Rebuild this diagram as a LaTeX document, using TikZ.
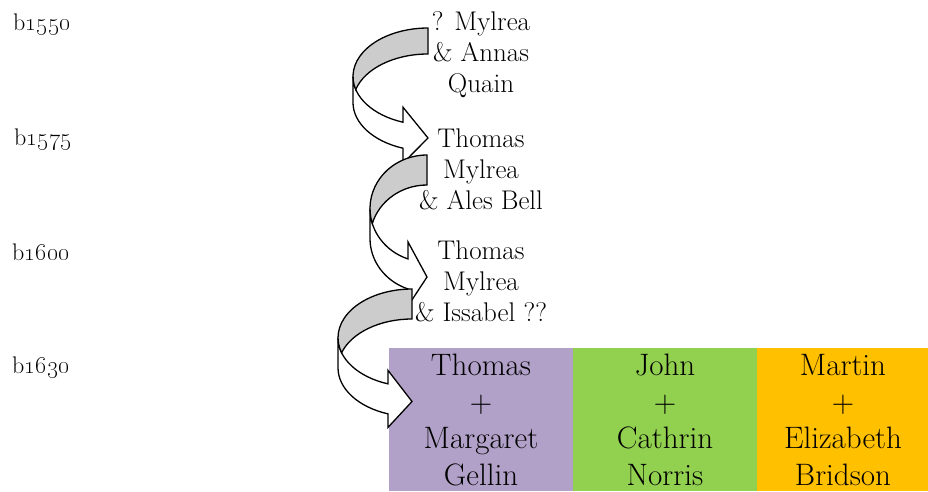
\documentclass[tikz,border=0pt]{standalone}
\definecolor{purp}{HTML}{B1A0C7}
\definecolor{grn}{HTML}{92D050}
\definecolor{org}{HTML}{FFC000}
\definecolor{band}{HTML}{CCCCCC}
\newcommand\curvarr[7]{%
  \pgfmathsetmacro\cL{#1}\pgfmathsetmacro\cT{#2}\pgfmathsetmacro\cR{#3}%
  \pgfmathsetmacro\cB{#4}\pgfmathsetmacro\cth{#5}\pgfmathsetmacro\caw{#6}%
  \pgfmathsetmacro\cah{#7}%
  \pgfmathsetmacro\cw{\cR-\cL}%
  \pgfmathsetmacro\chR{(\cB-\cT)/2-(\cth+\caw)/4}%
  \pgfmathsetmacro\cyA{\cT+\chR}%
  \pgfmathsetmacro\cphi{acos(-\cah/\cw)}%
  \pgfmathsetmacro\cxa{\cR-\cah}%
  \pgfmathsetmacro\cyf{\cyA+\chR*sin(\cphi)}%
  \pgfmathsetmacro\cys{\cyf+\cth}%
  \pgfmathsetmacro\cdh{(\caw-\cth)/2}%
  \pgfmathsetmacro\cyq{\cyf-\cdh}%
  \pgfmathsetmacro\cye{\cys+\cdh}%
  \pgfmathsetmacro\cyt{\cB-\caw/2}%
  \pgfmathsetmacro\calp{180-asin(\cth/(2*\chR))}%
  \pgfmathsetmacro\cbet{180+asin(\cth/(2*\chR))}%
  \draw[arr,fill=white] (\cL,\cyA)
    arc[start angle=180,end angle=\cphi,x radius=\cw,y radius=\chR]
    -- (\cxa,\cyq) -- (\cR,\cyt) -- (\cxa,\cye) -- (\cxa,\cys)
    arc[start angle=\cphi,end angle=180,x radius=\cw,y radius=\chR]
    -- cycle;
  \draw[arr,fill=band] (\cR,\cT)
    arc[start angle=270,end angle=\calp,x radius=\cw,y radius=\chR]
    arc[start angle=\cbet,end angle=270,x radius=\cw,y radius=\chR]
    -- cycle;
}
\begin{document}
\begin{tikzpicture}[x=1pt,y=-1pt,
  txt/.style={align=center,font=\fontsize{27}{31}\selectfont,inner sep=0pt},
  big/.style={align=center,font=\fontsize{31}{36.5}\selectfont,inner sep=0pt},
  yr/.style={font=\fontsize{24}{28}\selectfont,inner sep=0pt},
  cell/.style={minimum width=184,minimum height=143,inner sep=0pt,anchor=north west},
  arr/.style={draw=black,line width=1.3pt,line join=miter},
]
\useasboundingbox (0,0) rectangle (928,491);
% year labels
\node[yr] (y1) at (42,25) {b\oldstylenums{1550}};
\node[yr] (y2) at (43,140) {b\oldstylenums{1575}};
\node[yr] (y3) at (41,252) {b\oldstylenums{1600}};
\node[yr] (y4) at (41,368) {b\oldstylenums{1630}};
% bottom boxes
\node[cell,fill=purp] (c1) at (389,348) {};
\node[cell,fill=grn] (c2) at (573,348) {};
\node[cell,fill=org,minimum width=171] (c3) at (757,348) {};
\node[big] (t1) at (481,420) {Thomas\\+\\Margaret\\Gellin};
\node[big] (t2) at (665,420) {John\\+\\Cathrin\\Norris};
\node[big] (t3) at (843,420) {Martin\\+\\Elizabeth\\Bridson};
% arrows
\curvarr{353}{28}{428}{166}{26}{56}{25}
\curvarr{370}{155}{427}{309}{30}{64}{19}
\curvarr{338}{289}{412}{430}{30}{57}{24}
% generations
\node[txt] (g1) at (481,55) {? Mylrea\\\& Annas\\Quain};
\node[txt] (g2) at (481,169) {Thomas\\Mylrea\\\& Ales Bell};
\node[txt] (g3) at (481,281) {Thomas\\Mylrea\\\& Issabel ??};
\end{tikzpicture}
\end{document}
